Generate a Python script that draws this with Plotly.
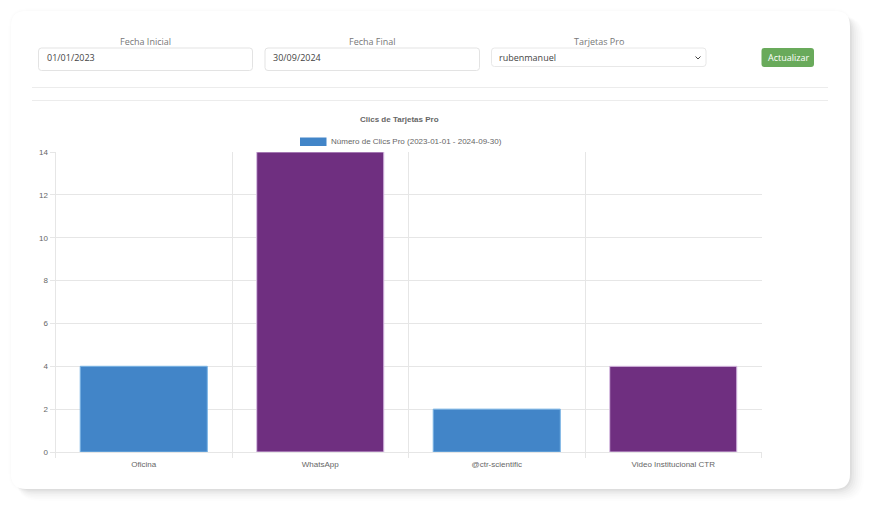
import plotly.graph_objects as go

W, H = 869, 508
categories = ["Oficina", "WhatsApp", "@ctr-scientific", "Video Institucional CTR"]
clicks = [4, 14, 2, 4]
bar_colors = ["#4285c8", "#6f2f80", "#4285c8", "#6f2f80"]
border_colors = ["#7ab4e4", "#d9bfe3", "#7ab4e4", "#d9bfe3"]
y_ticks = [0, 2, 4, 6, 8, 10, 12, 14]
series_name = "Número de Clics Pro (2023-01-01 - 2024-09-30)"
chart_title = "Clics de Tarjetas Pro"
SANS = "Liberation Sans, Arial, sans-serif"
UI = "Open Sans, sans-serif"

def px(x): return x / W
def py(y): return 1 - y / H

def rrect(x0, y0, x1, y1, r, fill, line=None, opacity=1.0, width=1):
    p = (f"M {px(x0+r)} {py(y0)} L {px(x1-r)} {py(y0)} Q {px(x1)} {py(y0)} {px(x1)} {py(y0+r)} "
         f"L {px(x1)} {py(y1-r)} Q {px(x1)} {py(y1)} {px(x1-r)} {py(y1)} "
         f"L {px(x0+r)} {py(y1)} Q {px(x0)} {py(y1)} {px(x0)} {py(y1-r)} "
         f"L {px(x0)} {py(y0+r)} Q {px(x0)} {py(y0)} {px(x0+r)} {py(y0)} Z")
    return dict(type="path", xref="paper", yref="paper", path=p, fillcolor=fill, opacity=opacity,
                line=dict(color=line or "rgba(0,0,0,0)", width=width if line else 0), layer="below")

def hline(y, x0, x1, color="#ececec"):
    return dict(type="line", xref="paper", yref="paper", x0=px(x0), x1=px(x1), y0=py(y), y1=py(y),
                line=dict(color=color, width=1), layer="below")

def note(x, y, text, size=9, color="#777777", anchor="center", family=UI):
    return dict(xref="paper", yref="paper", x=px(x), y=py(y), text=text, showarrow=False,
                xanchor=anchor, yanchor="middle", font=dict(size=size, color=color, family=family))

shapes = []
# faint halo on every side, then a soft shadow falling right and down
for grow, op in [(3, 0.004), (2, 0.005), (1, 0.006)]:
    shapes.append(rrect(11 - grow, 11 - grow, 850 + grow, 489 + grow, 15 + grow, "#000000", opacity=op))
for grow, op in [(14, 0.008), (12, 0.01), (10, 0.012), (8, 0.015), (6, 0.018), (4, 0.022), (2, 0.026)]:
    shapes.append(rrect(16, 16, 850 + grow, 489 + grow * 0.85, 15 + grow * 0.6, "#000000", opacity=op))
shapes.append(rrect(11, 11, 850, 489, 15, "#ffffff"))
shapes += [
    rrect(38.5, 48, 252.5, 70.5, 3, "#ffffff", "#e3e3e3"),
    rrect(265, 48, 479.5, 70.5, 3, "#ffffff", "#e3e3e3"),
    rrect(491.5, 48, 706, 66.5, 3, "#ffffff", "#e8e8e8"),
    rrect(761.5, 48, 814, 67, 3, "#69aa5b"),
    hline(87.5, 32, 828),
    hline(100.5, 32, 828),
    dict(type="path", xref="paper", yref="paper", layer="above",
         path=f"M {px(695.5)} {py(56.5)} L {px(698)} {py(59)} L {px(700.5)} {py(56.5)}",
         line=dict(color="#444444", width=1)),
    dict(type="rect", xref="paper", yref="paper", x0=px(300), x1=px(326.5), y0=py(146), y1=py(137.5),
         fillcolor=bar_colors[0], line=dict(width=0), layer="below"),
]

annotations = [
    note(145.5, 41.5, "Fecha Inicial"),
    note(372, 41.5, "Fecha Final"),
    note(599, 41.5, "Tarjetas Pro"),
    note(45, 57.5, "01/01/2023", color="#444444", anchor="left"),
    note(270.5, 57.5, "30/09/2024", color="#444444", anchor="left"),
    note(496.5, 57, "rubenmanuel", color="#444444", anchor="left"),
    note(788, 57.5, "Actualizar", color="#ffffff"),
    note(328.5, 141.5, series_name, size=8, color="#666666", anchor="left", family=SANS),
    note(399.5, 119.5, f"<b>{chart_title}</b>", size=8, color="#666666", family=SANS),
]

fig = go.Figure(go.Bar(
    x=categories, y=clicks, name=series_name, width=0.72, showlegend=False,
    marker=dict(color=bar_colors, line=dict(color=border_colors, width=1)),
))
fig.update_layout(
    width=W, height=H, margin=dict(l=0, r=0, t=0, b=0, pad=0, autoexpand=False), autosize=False,
    paper_bgcolor="#ffffff", plot_bgcolor="rgba(0,0,0,0)",
    shapes=shapes, annotations=annotations,
    xaxis=dict(domain=[55.5 / W, 761.5 / W], type="category", range=[-0.5, 3.5], tickson="boundaries",
               showgrid=True, gridcolor="#e6e6e6", gridwidth=1, ticks="outside", ticklen=5, tickcolor="#e6e6e6",
               showline=True, linecolor="#e6e6e6", zeroline=False, ticklabelstandoff=4,
               tickfont=dict(size=8, color="#666666", family=SANS)),
    yaxis=dict(domain=[1 - 452 / H, 1 - 152 / H], range=[0, 14], tickvals=y_ticks,
               showgrid=True, gridcolor="#e6e6e6", gridwidth=1, ticks="outside", ticklen=5, tickcolor="#e6e6e6",
               showline=True, linecolor="#e6e6e6", zeroline=False,
               tickfont=dict(size=8, color="#666666", family=SANS)),
)
fig.write_html("out.html", config=dict(displayModeBar=False), post_script="document.body.style.margin='0';")
